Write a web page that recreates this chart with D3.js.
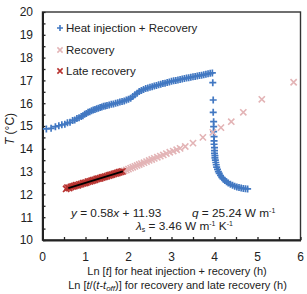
<!DOCTYPE html>
<html><head><meta charset="utf-8">
<script src="https://cdn.jsdelivr.net/npm/d3@7"></script>
<style>body{margin:0;background:#fff}svg{display:block;font-family:"Liberation Sans",Arial,sans-serif}</style>
</head><body><svg id="c" width="307" height="294"></svg>
<script>
// Heat injection + Recovery (Ln t)
const heatX = [0.09,0.2,0.3,0.38,0.45,0.52,0.58,0.64,0.7,0.75,0.8,0.85,0.9,0.94,0.98,1.02,1.06,1.1,1.14,1.18,1.22,1.26,1.3,1.34,1.38,1.42,1.46,1.5,1.55,1.6,1.65,1.7,1.75,1.8,1.85,1.9,1.95,2.0,2.05,2.1,2.15,2.2,2.25,2.3,2.35,2.4,2.45,2.5,2.55,2.6,2.65,2.7,2.75,2.8,2.85,2.9,2.95,3.0,3.05,3.1,3.15,3.2,3.25,3.3,3.35,3.4,3.45,3.5,3.55,3.6,3.65,3.7,3.75,3.8,3.85,3.9,3.95,
  3.96,3.97,3.97,3.98,3.98,3.98,3.99,3.99,3.99,4.0,4.0,4.0,4.01,4.01,4.02,4.03,4.04,4.05,4.07,4.09,4.11,4.14,4.17,4.2,4.24,4.28,4.32,4.37,4.42,4.47,4.52,4.57,4.62,4.67,4.72,4.77];
const heatT = [14.87,14.90,14.97,15.01,15.05,15.08,15.14,15.16,15.24,15.26,15.33,15.36,15.42,15.45,15.51,15.55,15.6,15.62,15.67,15.7,15.72,15.76,15.78,15.81,15.83,15.87,15.88,15.9,15.92,15.95,15.97,16.0,16.02,16.05,16.08,16.1,16.14,16.17,16.22,16.29,16.37,16.44,16.51,16.56,16.6,16.64,16.67,16.7,16.72,16.75,16.78,16.81,16.83,16.86,16.88,16.91,16.93,16.96,16.98,17.0,17.02,17.04,17.06,17.08,17.1,17.12,17.14,17.16,17.17,17.19,17.21,17.23,17.25,17.27,17.29,17.31,17.33,
  16.9,16.14,15.6,15.19,14.97,14.75,14.53,14.35,14.2,14.05,13.92,13.8,13.7,13.6,13.5,13.4,13.3,13.2,13.1,13.0,12.92,12.83,12.75,12.68,12.61,12.55,12.5,12.44,12.4,12.36,12.33,12.3,12.28,12.26,12.25,12.24];
// Recovery (Ln t/(t-toff))
const recX = [0.55,0.6,0.65,0.7,0.75,0.8,0.85,0.9,0.95,1.0,1.05,1.1,1.15,1.2,1.25,1.3,1.35,1.4,1.45,1.5,1.55,1.6,1.65,1.7,1.75,1.8,1.85,1.9,1.95,2.0,2.05,2.1,2.15,2.2,2.25,2.3,2.36,2.42,2.48,2.54,2.6,2.67,2.74,2.81,2.88,2.96,3.04,3.12,3.2,3.32,3.5,3.73,3.96,4.15,4.39,4.67,5.1,5.84];
const recT = [12.25,12.29,12.3,12.34,12.37,12.4,12.42,12.46,12.48,12.51,12.54,12.57,12.6,12.63,12.65,12.69,12.71,12.74,12.77,12.8,12.83,12.86,12.89,12.91,12.95,12.97,13.0,13.03,13.07,13.11,13.15,13.19,13.23,13.27,13.31,13.35,13.39,13.44,13.49,13.53,13.58,13.63,13.68,13.73,13.79,13.85,13.9,13.96,14.02,14.1,14.25,14.5,14.72,14.93,15.19,15.6,16.17,16.92];
// Late recovery
const lateX = [0.55,0.58,0.62,0.66,0.7,0.74,0.78,0.82,0.86,0.9,0.94,0.98,1.02,1.06,1.1,1.14,1.18,1.22,1.26,1.3,1.34,1.38,1.42,1.46,1.5,1.54,1.58,1.62,1.66,1.7,1.74,1.78,1.82,1.86];
const lateT = [12.24,12.3,12.28,12.33,12.35,12.37,12.4,12.4,12.44,12.45,12.49,12.5,12.52,12.56,12.57,12.6,12.62,12.64,12.68,12.69,12.71,12.74,12.76,12.78,12.8,12.83,12.85,12.87,12.9,12.92,12.94,12.97,12.99,13.01];
const fitSlope = 0.58, fitIntercept = 11.93, fitRange = [0.6, 1.87];
const xTicks = [0,1,2,3,4,5,6];
const yTicks = [10,11,12,13,14,15,16,17,18,19,20];
const legendLabels = ["Heat injection + Recovery","Recovery","Late recovery"];

const svg = d3.select("#c");
const x = d3.scaleLinear().domain([0,6]).range([42.5,300.5]);
const y = d3.scaleLinear().domain([10,20]).range([240,12]);
const blue = "#4278c2", pink = "#e3b4b6", red = "#b8322f", txt = "#222";

// frame
svg.append("rect").attr("x",x(0)).attr("y",y(20)).attr("width",x(6)-x(0)).attr("height",y(10)-y(20))
  .attr("fill","none").attr("stroke","#333").attr("stroke-width",1.4);

const xa = svg.append("g").attr("transform",`translate(0,${y(10)})`)
  .call(d3.axisBottom(x).tickValues(d3.range(0,6.01,0.5)).tickSizeInner(-3).tickSizeOuter(0).tickFormat(""));
const ya = svg.append("g").attr("transform",`translate(${x(0)},0)`)
  .call(d3.axisLeft(y).tickValues(d3.range(10,20.01,0.5)).tickSizeInner(-3).tickSizeOuter(0).tickFormat(""));
[xa,ya].forEach(a=>{a.select(".domain").attr("stroke","#222").attr("stroke-width",2);a.selectAll("line").attr("stroke","#222").attr("stroke-width",1.3);});

svg.append("g").selectAll("text").data(xTicks).join("text")
  .attr("x",d=>x(d)).attr("y",261).attr("text-anchor","middle").attr("font-size",12).attr("fill",txt).text(d=>d);
svg.append("g").selectAll("text").data(yTicks).join("text")
  .attr("x",33).attr("y",d=>y(d)+4.3).attr("text-anchor","end").attr("font-size",12).attr("fill",txt).text(d=>d);

function plus(g,s,c,w){g.append("path").attr("d",`M${-s},0H${s}M0,${-s}V${s}`).attr("stroke",c).attr("stroke-width",w);}
function cross(g,s,c,w){g.append("path").attr("d",`M${-s},${-s}L${s},${s}M${-s},${s}L${s},${-s}`).attr("stroke",c).attr("stroke-width",w);}

const gh = svg.append("g");
heatX.forEach((v,i)=>{const g=gh.append("g").attr("transform",`translate(${x(v)},${y(heatT[i])})`);plus(g,3.5,blue,1.7);});
const gr = svg.append("g");
recX.forEach((v,i)=>{const g=gr.append("g").attr("transform",`translate(${x(v)},${y(recT[i])})`);cross(g,3.1,pink,1.6);});
const gl = svg.append("g");
lateX.forEach((v,i)=>{const g=gl.append("g").attr("transform",`translate(${x(v)},${y(lateT[i])})`);cross(g,3.1,red,1.6);});
svg.append("line").attr("x1",x(fitRange[0])).attr("y1",y(fitSlope*fitRange[0]+fitIntercept))
  .attr("x2",x(fitRange[1])).attr("y2",y(fitSlope*fitRange[1]+fitIntercept)).attr("stroke","#000").attr("stroke-width",1.8);

// legend
const lg = svg.append("g");
const ly = [28,50,71];
legendLabels.forEach((l,i)=>{
  const g = lg.append("g").attr("transform",`translate(60,${ly[i]})`);
  if(i===0) plus(g,3,blue,1.6); else if(i===1) cross(g,2.6,pink,1.5); else cross(g,2.6,red,1.6);
  lg.append("text").attr("x",66).attr("y",ly[i]+4).attr("font-size",11.5).attr("fill",txt).text(l);
});

// annotations
const a1 = svg.append("text").attr("x",71).attr("y",217).attr("font-size",11.8).attr("fill",txt);
a1.append("tspan").attr("font-style","italic").text("y");
a1.append("tspan").text(" = "+fitSlope.toFixed(2));
a1.append("tspan").attr("font-style","italic").text("x");
a1.append("tspan").text(" + "+fitIntercept.toFixed(2));
const a2 = svg.append("text").attr("x",192).attr("y",217).attr("font-size",11.8).attr("fill",txt);
a2.append("tspan").attr("font-style","italic").text("q");
a2.append("tspan").text(" = 25.24 W m");
a2.append("tspan").attr("font-size",7).attr("dy",-4).text("-1");
const a3 = svg.append("text").attr("x",136).attr("y",229.5).attr("font-size",11.8).attr("fill",txt);
a3.append("tspan").attr("font-style","italic").text("λ");
a3.append("tspan").attr("font-size",7).attr("dy",2).text("s");
a3.append("tspan").attr("dy",-2).text(" = 3.46 W m");
a3.append("tspan").attr("font-size",7).attr("dy",-4).text("-1");
a3.append("tspan").attr("dy",4).text(" K");
a3.append("tspan").attr("font-size",7).attr("dy",-4).text("-1");

// axis titles
const t1 = svg.append("text").attr("x",177).attr("y",274.5).attr("text-anchor","middle").attr("font-size",11).attr("fill",txt);
t1.append("tspan").text("Ln [");
t1.append("tspan").attr("font-style","italic").text("t");
t1.append("tspan").text("] for heat injection + recovery (h)");
const t2 = svg.append("text").attr("x",177.5).attr("y",288.5).attr("text-anchor","middle").attr("font-size",11).attr("fill",txt);
t2.append("tspan").text("Ln [");
t2.append("tspan").attr("font-style","italic").text("t");
t2.append("tspan").text("/(");
t2.append("tspan").attr("font-style","italic").text("t");
t2.append("tspan").text("-");
t2.append("tspan").attr("font-style","italic").text("t");
t2.append("tspan").attr("font-size",8).attr("font-style","italic").attr("dy",2).text("off");
t2.append("tspan").attr("dy",-2).text(")] for recovery and late recovery (h)");
const yt = svg.append("text").attr("transform","translate(14,129) rotate(-90)").attr("text-anchor","middle").attr("font-size",12).attr("fill",txt);
yt.append("tspan").attr("font-style","italic").text("T");
yt.append("tspan").text(" (°C)");
</script></body></html>
